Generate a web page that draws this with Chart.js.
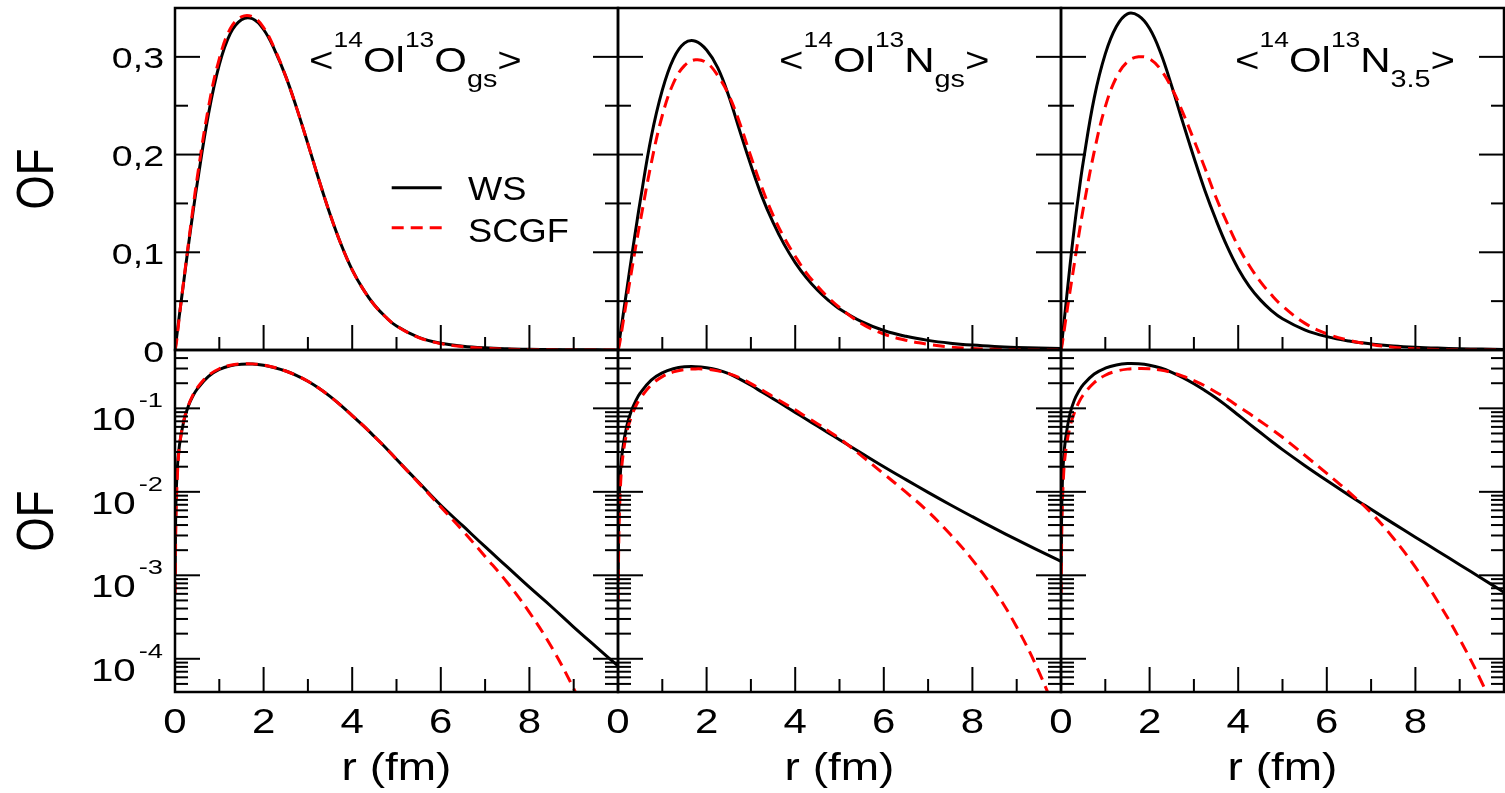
<!DOCTYPE html>
<html>
<head>
<meta charset="utf-8">
<title>Overlap functions: WS vs SCGF</title>
<script src="https://cdn.jsdelivr.net/npm/chart.js@4.4.1/dist/chart.umd.min.js"></script>
<style>
  html, body { margin: 0; padding: 0; background: #fff; }
  #fig { position: relative; width: 1505px; height: 793px; overflow: hidden; background: #fff; }
  #fig canvas { position: absolute; left: 0; top: 0; }
</style>
</head>
<body>
<div id="fig"></div>
<script>
// ---- data -------------------------------------------------------------
// radial grid (fm)
const radius = [0, 0.003, 0.02, 0.05, 0.1, 0.2, 0.3, 0.4, 0.5, 0.75, 1.0, 1.25, 1.5, 1.75,
  2.0, 2.25, 2.5, 2.75, 3.0, 3.25, 3.5, 3.75, 4.0, 4.25, 4.5, 4.75, 5.0, 5.5, 6.0, 6.5,
  7.0, 7.5, 8.0, 8.5, 9.0, 9.5, 10.0];

// <14O|13O gs>
const wsO13gs = [null, 0.001, 0.007, 0.018, 0.036, 0.071, 0.106, 0.139, 0.170, 0.240,
  0.292, 0.324, 0.338, 0.339, 0.328, 0.307, 0.280, 0.247, 0.211, 0.174,
  0.139, 0.108, 0.082, 0.062, 0.046, 0.034, 0.0245, 0.0130, 0.0069, 0.0039,
  0.0022, 0.00126, 0.00072, 0.00042, 0.00024, 0.00014, 0.000082];
const scgfO13gs = [0, 0.0006, 0.004, 0.014, 0.035, 0.072, 0.108, 0.143, 0.176, 0.247,
  0.298, 0.329, 0.341, 0.341, 0.330, 0.308, 0.280, 0.247, 0.211, 0.174,
  0.139, 0.108, 0.082, 0.062, 0.046, 0.034, 0.0245, 0.0128, 0.0066, 0.0034,
  0.00168, 0.00082, 0.00036, 0.000138, 0.000044, 0.000012, 0.000003];

// <14O|13N gs>
const wsN13gs = [null, 0.001, 0.0062, 0.0155, 0.031, 0.062, 0.093, 0.123, 0.152, 0.218,
  0.266, 0.298, 0.314, 0.316, 0.307, 0.289, 0.260, 0.224, 0.189, 0.157,
  0.1306, 0.1081, 0.0895, 0.0741, 0.0614, 0.0508, 0.0421, 0.0290, 0.0200, 0.0140,
  0.00986, 0.00701, 0.00504, 0.00365, 0.00267, 0.00197, 0.00147];
const scgfN13gs = [0, 0.0005, 0.003, 0.010, 0.024, 0.052, 0.079, 0.106, 0.131, 0.191,
  0.240, 0.273, 0.291, 0.297, 0.294, 0.281, 0.261, 0.232, 0.198, 0.166,
  0.138, 0.115, 0.096, 0.079, 0.0655, 0.0536, 0.0435, 0.0270, 0.0164, 0.0099,
  0.0058, 0.0031, 0.00153, 0.00066, 0.00024, 0.00007, 0.000016];

// <14O|13N 3.5>
const wsN13x35 = [null, 0.0013, 0.008, 0.021, 0.042, 0.085, 0.125, 0.160, 0.192, 0.258,
  0.303, 0.331, 0.344, 0.342, 0.329, 0.304, 0.270, 0.233, 0.197, 0.163,
  0.133, 0.106, 0.0832, 0.0652, 0.0513, 0.0404, 0.032, 0.0207, 0.01365, 0.00912,
  0.00617, 0.00419, 0.00286, 0.00196, 0.00134, 0.000916, 0.000627];
const scgfN13x35 = [0, 0.0006, 0.004, 0.013, 0.029, 0.059, 0.088, 0.117, 0.144, 0.203,
  0.249, 0.279, 0.295, 0.300, 0.298, 0.287, 0.268, 0.243, 0.215, 0.186,
  0.156, 0.130, 0.106, 0.0865, 0.070, 0.0565, 0.045, 0.0275, 0.0166, 0.0099,
  0.0056, 0.0028, 0.00125, 0.00049, 0.000172, 0.000052, 0.000013];

const seriesNames = ['WS', 'SCGF'];

// tick values and labels
const xMajorTicks = [0, 2, 4, 6, 8];
const xMinorTicks = [1, 3, 5, 7, 9];
const linMajorTicks = [0, 0.1, 0.2, 0.3];
const linTickLabels = ['0', '0,1', '0,2', '0,3'];
const linMinorTicks = [0.05, 0.15, 0.25];
const logMajorExponents = [-1, -2, -3, -4];

const xAxisTitle = 'r (fm)';
const yAxisTitle = 'OF';

// panel headings as [text, kind] runs: n = normal, sup, sub
const panelHeadings = [
  [['<', 'n'], ['14', 'sup'], ['Ol', 'n'], ['13', 'sup'], ['O', 'n'], ['gs', 'sub'], ['>', 'n']],
  [['<', 'n'], ['14', 'sup'], ['Ol', 'n'], ['13', 'sup'], ['N', 'n'], ['gs', 'sub'], ['>', 'n']],
  [['<', 'n'], ['14', 'sup'], ['Ol', 'n'], ['13', 'sup'], ['N', 'n'], ['3.5', 'sub'], ['>', 'n']]
];

const panelSeries = [
  [wsO13gs, scgfO13gs],
  [wsN13gs, scgfN13gs],
  [wsN13x35, scgfN13x35]
];

// ---- layout -----------------------------------------------------------
const FIG_W = 1505, FIG_H = 793;
const colLeft = [175, 618, 1061];
const colRight = [618, 1061, 1504];
const rowTop = [8, 350];
const rowBottom = [350, 692];
const headingOffset = [134, 161, 174];
const MAJOR = 25, MINOR = 13;
const FONT = '"Liberation Sans", Arial, Helvetica, sans-serif';

function drawText(ctx, str, x, y, size, align, k) {
  ctx.save();
  ctx.font = size + 'px ' + FONT;
  ctx.textAlign = align;
  ctx.textBaseline = 'alphabetic';
  ctx.fillStyle = '#000';
  ctx.translate(x, y);
  ctx.scale(k, 1);
  ctx.fillText(str, 0, 0);
  const w = ctx.measureText(str).width * k;
  ctx.restore();
  return w;
}

function panelDecor(row, col) {
  return {
    id: 'panelDecor',
    afterDatasetsDraw(chart) {
      const ctx = chart.ctx;
      const a = chart.chartArea;
      const xs = chart.scales.x, ys = chart.scales.y;
      ctx.save();
      ctx.strokeStyle = '#000';
      ctx.lineCap = 'butt';
      ctx.lineWidth = 2;
      const seg = (x1, y1, x2, y2) => { ctx.beginPath(); ctx.moveTo(x1, y1); ctx.lineTo(x2, y2); ctx.stroke(); };

      // x ticks, pointing up from the bottom edge
      xMajorTicks.forEach(v => {
        if (v <= xs.min) return;
        const p = xs.getPixelForValue(v);
        seg(p, a.bottom, p, a.bottom - MAJOR);
      });
      xMinorTicks.forEach(v => {
        const p = xs.getPixelForValue(v);
        seg(p, a.bottom, p, a.bottom - MINOR);
      });

      // y ticks on both sides, pointing inward
      let yMajor, yMinor;
      if (row === 0) {
        yMajor = linMajorTicks.filter(v => v > ys.min);
        yMinor = linMinorTicks;
      } else {
        yMajor = logMajorExponents.map(e => Math.pow(10, e));
        yMinor = [];
        for (let e = -5; e < 0; e++) {
          for (let m = 2; m <= 9; m++) {
            const v = m * Math.pow(10, e);
            if (v > ys.min * 1.001 && v < ys.max * 0.999) yMinor.push(v);
          }
        }
      }
      const yTick = (v, len) => {
        const p = ys.getPixelForValue(v);
        seg(a.left, p, a.left + len, p);
        seg(a.right - len, p, a.right, p);
      };
      yMajor.forEach(v => yTick(v, MAJOR));
      yMinor.forEach(v => yTick(v, MINOR));

      // frame
      ctx.lineWidth = 2.5;
      ctx.strokeRect(a.left, a.top, a.right - a.left, a.bottom - a.top);

      // y tick labels and title on the left column
      if (col === 0) {
        if (row === 0) {
          linMajorTicks.forEach((v, i) => {
            drawText(ctx, linTickLabels[i], a.left - 11, ys.getPixelForValue(v) + 11.5, 30, 'right', 1.25);
          });
        } else {
          logMajorExponents.forEach(e => {
            const p = ys.getPixelForValue(Math.pow(10, e));
            const w = drawText(ctx, String(e), a.left - 12, p - 1, 21, 'right', 1.3);
            drawText(ctx, '10', a.left - 12 - w - 3, p + 22, 31, 'right', 1.3);
          });
        }
        ctx.save();
        ctx.font = '44px ' + FONT;
        ctx.fillStyle = '#000';
        ctx.textAlign = 'center';
        ctx.textBaseline = 'alphabetic';
        ctx.translate(53, (a.top + a.bottom) / 2);
        ctx.scale(1.16, 1);
        ctx.rotate(-Math.PI / 2);
        ctx.fillText(yAxisTitle, 0, 0);
        ctx.restore();
      }

      // x tick labels and title on the bottom row
      if (row === 1) {
        xMajorTicks.forEach(v => {
          drawText(ctx, String(v), xs.getPixelForValue(v), a.bottom + 41, 35, 'center', 1.2);
        });
        drawText(ctx, xAxisTitle, (a.left + a.right) / 2, a.bottom + 88, 39, 'center', 1.18);
      }

      // panel heading on the top row
      if (row === 0) {
        let x = a.left + headingOffset[col];
        const base = a.top + 63.7;
        panelHeadings[col].forEach(([t, kind]) => {
          const size = kind === 'n' ? 35 : (kind === 'sup' ? 22 : 24);
          const dy = kind === 'sup' ? -25 : (kind === 'sub' ? 15 : 0);
          x += drawText(ctx, t, x, base + dy, size, 'left', 1.2);
        });
      }

      // legend in the first panel
      if (row === 0 && col === 0) {
        chart.data.datasets.forEach((ds, i) => {
          const ly = a.top + 179.7 + i * 40;
          ctx.save();
          ctx.strokeStyle = ds.borderColor;
          ctx.lineWidth = ds.borderWidth;
          ctx.setLineDash(ds.borderDash || []);
          seg(a.left + 216.7, ly, a.left + 266.7, ly);
          ctx.restore();
          drawText(ctx, ds.label, a.left + 293, ly + 12.5 + i * 1.5, 33, 'left', 1.1);
        });
      }
      ctx.restore();
    }
  };
}

function makeDataset(values, idx) {
  const solid = idx === 0;
  return {
    label: seriesNames[idx],
    data: radius.map((r, i) => ({ x: r, y: values[i] })),
    borderColor: solid ? '#000000' : '#ff0000',
    borderWidth: 3,
    borderDash: solid ? [] : [12, 7],
    pointRadius: 0,
    fill: false,
    tension: 0.4,
    order: solid ? 2 : 1
  };
}

const fig = document.getElementById('fig');
for (let row = 0; row < 2; row++) {
  for (let col = 0; col < 3; col++) {
    const canvas = document.createElement('canvas');
    canvas.width = FIG_W;
    canvas.height = FIG_H;
    fig.appendChild(canvas);
    const yScale = row === 0
      ? { type: 'linear', min: 0, max: 0.35, display: false }
      : { type: 'logarithmic', min: 4e-5, max: 0.5, display: false };
    new Chart(canvas, {
      type: 'line',
      data: { datasets: panelSeries[col].map((vals, i) => makeDataset(vals, i)) },
      options: {
        responsive: false,
        animation: false,
        devicePixelRatio: 1,
        events: [],
        layout: {
          padding: {
            left: colLeft[col],
            right: FIG_W - colRight[col],
            top: rowTop[row],
            bottom: FIG_H - rowBottom[row]
          }
        },
        plugins: { legend: { display: false }, tooltip: { enabled: false } },
        scales: {
          x: { type: 'linear', min: 0, max: 10, display: false },
          y: yScale
        }
      },
      plugins: [panelDecor(row, col)]
    });
  }
}
</script>
</body>
</html>
